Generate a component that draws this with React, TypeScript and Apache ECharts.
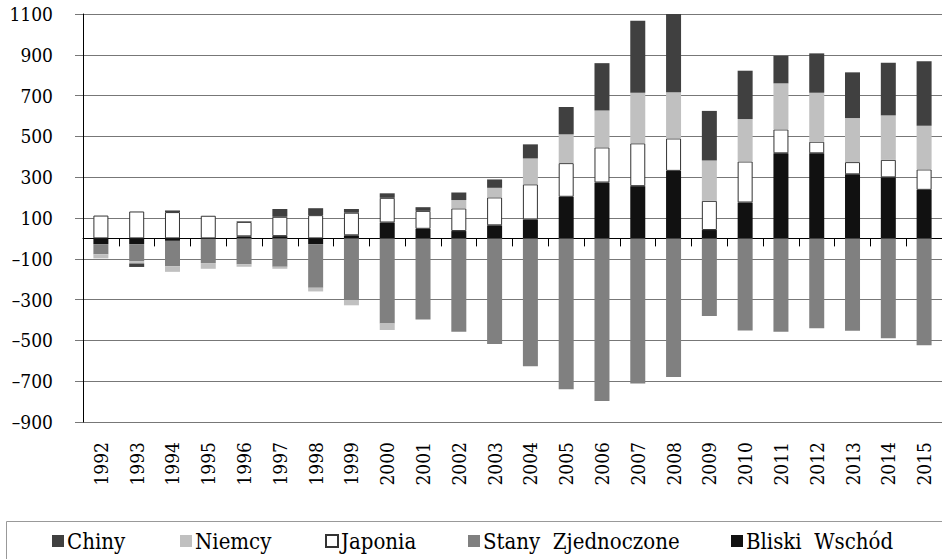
import React, { useEffect, useRef } from "react";
import * as echarts from "echarts";

const years = ["1992","1993","1994","1995","1996","1997","1998","1999","2000","2001","2002","2003","2004","2005","2006","2007","2008","2009","2010","2011","2012","2013","2014","2015"];
const bliskiWschod = [-28, -28, -12, -2, 10, 11, -28, 15, 78, 47, 36, 64, 93, 204, 274, 256, 331, 41, 176, 417, 417, 314, 299, 238];
const stanyZjednoczone = [-50, -83, -124, -119, -127, -139, -214, -302, -417, -397, -458, -518, -627, -739, -797, -711, -680, -381, -451, -458, -441, -453, -489, -524];
const japonia = [112, 132, 129, 111, 71, 95, 114, 111, 121, 88, 111, 137, 172, 165, 172, 210, 159, 143, 201, 117, 57, 60, 86, 100];
const niemcy = [-20, -12, -28, -28, -12, -10, -18, -26, -32, 0, 41, 47, 127, 141, 181, 248, 227, 198, 208, 226, 240, 216, 218, 214];
const chiny = [0, -17, 8, 0, 3, 38, 34, 18, 22, 18, 37, 41, 69, 134, 232, 353, 390, 243, 237, 135, 193, 224, 258, 316];
const yTicks = { min: -900, max: 1100, interval: 200 };

const FONT = "DejaVu Serif Condensed";

export default function App() {
  const ref = useRef<HTMLDivElement>(null);
  useEffect(() => {
    document.body.style.margin = "0";
    const chart = echarts.init(ref.current!, undefined, { renderer: "svg" });
    const mk = (name: string, data: number[], color: string, border?: string) => ({
      name,
      type: "bar",
      stack: "total",
      xAxisIndex: 0,
      barWidth: 15,
      data,
      itemStyle: border
        ? { color, borderColor: border, borderWidth: 1 }
        : { color },
    });
    const legendPos: [string, number][] = [
      ["Chiny", 52],
      ["Niemcy", 180],
      ["Japonia", 325],
      ["Stany Zjednoczone", 468],
      ["Bliski Wschód", 731],
    ];
    chart.setOption({
      animation: false,
      grid: { left: 83, right: -5, top: 14, bottom: 137, containLabel: false },
      xAxis: [
        {
          type: "category",
          data: years,
          position: "bottom",
          axisLine: { onZero: true, lineStyle: { color: "#000", width: 1 } },
          axisTick: { show: true, length: 8, lineStyle: { color: "#000" } },
          axisLabel: { show: false },
          splitLine: { show: false },
        },
        {
          type: "category",
          data: years,
          position: "bottom",
          axisLine: { show: false, onZero: false },
          axisTick: { show: false },
          axisLabel: {
            rotate: 90,
            margin: 20,
            fontFamily: FONT,
            fontSize: 19,
            color: "#000",
          },
        },
      ],
      yAxis: {
        type: "value",
        min: yTicks.min,
        max: yTicks.max,
        interval: yTicks.interval,
        axisLine: { show: true, lineStyle: { color: "#000", width: 1 } },
        axisTick: { show: true, length: 8, lineStyle: { color: "#777" } },
        splitLine: { show: true, lineStyle: { color: "#777", width: 1 } },
        axisLabel: {
          margin: 30,
          fontFamily: FONT,
          fontSize: 19,
          color: "#000",
          formatter: (v: number) => String(v).replace("-", "\u2013"),
        },
      },
      legend: legendPos.map(([name, left]) => ({
        data: [name],
        left,
        top: 530,
        padding: 0,
        itemWidth: 12,
        itemHeight: 12,
        itemGap: 0,
        icon: "rect",
        textStyle: { fontFamily: FONT, fontSize: 22, color: "#000", padding: [0, 0, 0, -2] },
        formatter: (n: string) => n.replace(" ", "\u00a0 "),
      })),
      graphic: [
        {
          type: "rect",
          left: 4,
          top: 519,
          shape: { width: 936, height: 60 },
          style: { fill: "none", stroke: "#999", lineWidth: 1 },
        },
      ],
      series: [
        mk("Bliski Wschód", bliskiWschod, "#111111"),
        mk("Stany Zjednoczone", stanyZjednoczone, "#808080"),
        mk("Japonia", japonia, "#ffffff", "#333333"),
        mk("Niemcy", niemcy, "#c0c0c0"),
        mk("Chiny", chiny, "#404040"),
      ],
    });
    return () => chart.dispose();
  }, []);
  return <div ref={ref} style={{ width: 942, height: 559 }} />;
}
